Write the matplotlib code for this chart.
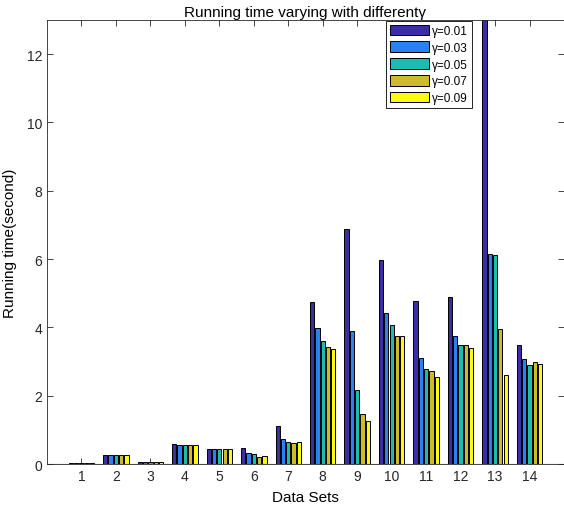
import numpy as np
import matplotlib
matplotlib.use('Agg')
from matplotlib import pyplot as plt

plt.rcParams['font.family'] = ['Liberation Sans', 'DejaVu Sans']

# valeurs
data_sets = list(range(1, 15))
labels = ['γ=0.01', 'γ=0.03', 'γ=0.05', 'γ=0.07', 'γ=0.09']
g001 = [0.02, 0.26, 0.06, 0.59, 0.43, 0.46, 1.11, 4.75, 6.88, 5.98, 4.78, 4.89, 14.0, 3.50]
g003 = [0.02, 0.26, 0.05, 0.57, 0.43, 0.32, 0.73, 3.97, 3.90, 4.43, 3.12, 3.76, 6.16, 3.08]
g005 = [0.02, 0.26, 0.05, 0.56, 0.43, 0.29, 0.64, 3.59, 2.16, 4.08, 2.78, 3.48, 6.12, 2.91]
g007 = [0.02, 0.26, 0.05, 0.55, 0.43, 0.22, 0.63, 3.42, 1.48, 3.76, 2.72, 3.50, 3.96, 3.00]
g009 = [0.02, 0.26, 0.05, 0.55, 0.43, 0.23, 0.64, 3.38, 1.27, 3.76, 2.55, 3.41, 2.62, 2.94]
colors = ['#3b2ea3', '#2b80f2', '#1cbdb0', '#cdbb2c', '#fbfb12']

series = [g001, g003, g005, g007, g009]

fig = plt.figure(figsize=(5.64, 5.10), dpi=100)
ax = fig.add_axes([0.0833, 0.088, 0.9167, 0.871])

x = np.array(data_sets)
pitch = 0.7692 / 5
for i, vals in enumerate(series):
    ax.bar(x + (i - 2) * pitch, vals, width=pitch * 0.8, color=colors[i],
           edgecolor='black', linewidth=0.7, label=labels[i], zorder=2)

ax.axhline(0, color='#262626', linewidth=0.8, zorder=3)
ax.set_xlim(0, 15)
ax.set_ylim(0, 13)
ax.set_xticks(data_sets)
ax.set_yticks([0, 2, 4, 6, 8, 10, 12])
ax.tick_params(direction='in', top=True, right=True, length=4, width=0.6,
               colors='#262626', labelsize=10)
for s in ax.spines.values():
    s.set_color('#262626')
    s.set_linewidth(0.6)

ax.set_xlabel('Data Sets', fontsize=11, labelpad=5)
ax.set_ylabel('Running time(second)', fontsize=11, labelpad=7)
ax.set_title('Running time varying with differentγ', fontsize=11, pad=3)

leg = ax.legend(loc='upper left', bbox_to_anchor=(0.654, 1.0), fontsize=8.5,
                fancybox=False, edgecolor='black', framealpha=1,
                handlelength=3.3, handleheight=1.0, handletextpad=0.3,
                borderpad=0.35, labelspacing=0.38, borderaxespad=0.05)
leg.get_frame().set_linewidth(0.6)

plt.savefig('out.png', dpi=100)
